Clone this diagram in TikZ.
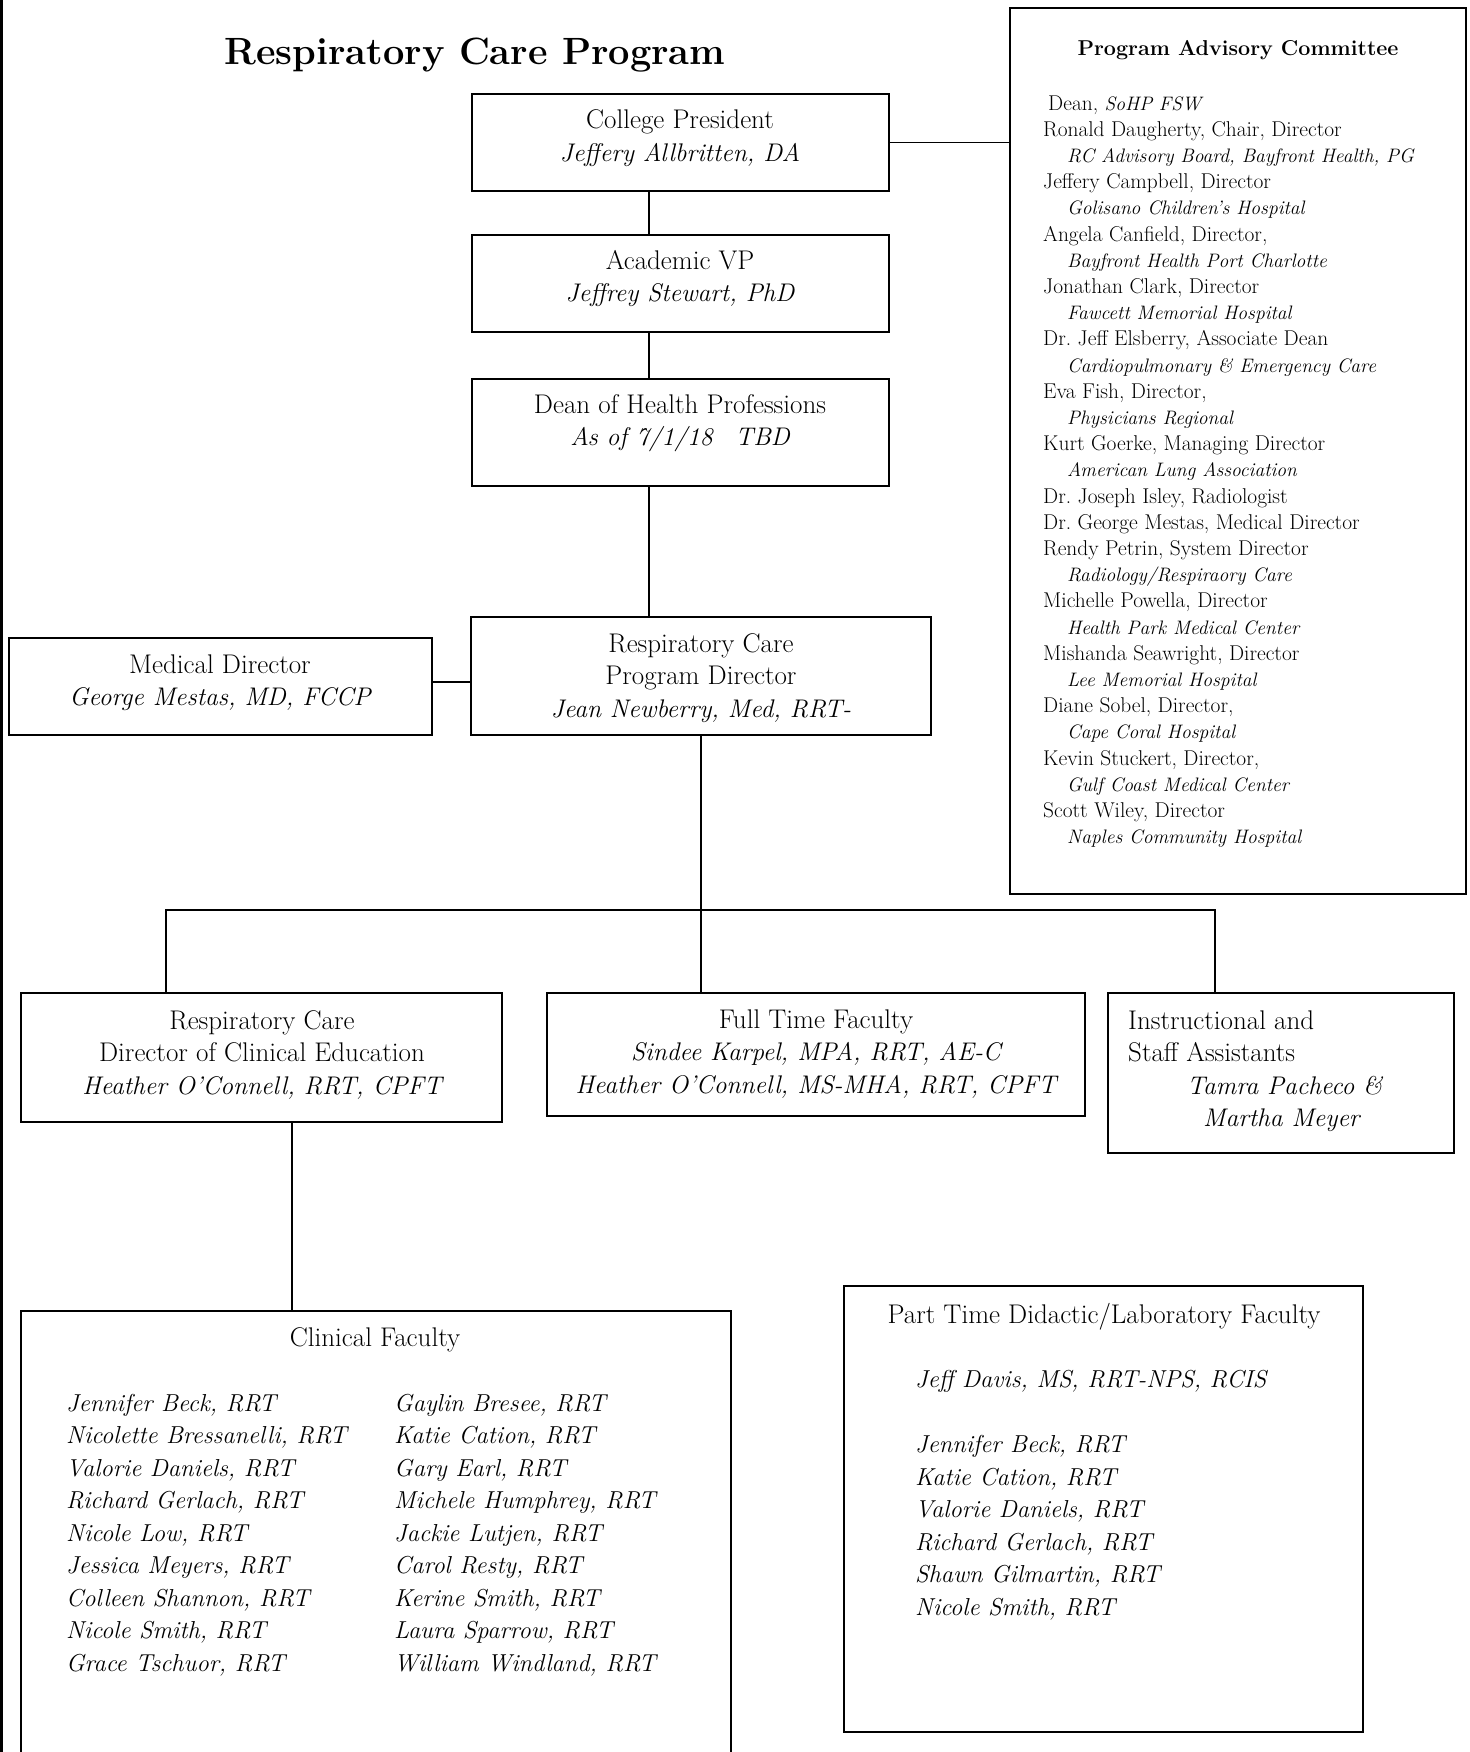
\documentclass[tikz,border=0pt]{standalone}
\usepackage{fontspec}
\frenchspacing
\newcommand\boxit[1]{{\fontsize{25.5}{32.5}\selectfont\itshape #1}}
\newcommand\advit[1]{{\fontsize{19.5}{26.2}\selectfont\itshape #1}}
\begin{document}
\frenchspacing
\begin{tikzpicture}[x=1pt,y=-1pt,
  box/.style={draw, line width=2pt, inner sep=0pt},
  conn/.style={line width=1.6pt},
  txt/.style={font=\frenchspacing\fontsize{27}{32.5}\selectfont, align=center, inner sep=0pt},
  ltxt/.style={font=\frenchspacing\fontsize{27}{32.5}\selectfont, align=left, inner sep=0pt, anchor=west},
  list/.style={font=\frenchspacing\fontsize{24.5}{32.5}\selectfont\itshape, align=left, inner sep=0pt, anchor=west},
]
\useasboundingbox (0,0) rectangle (1469,1752);
\clip (0,0) rectangle (1469,1752);
\fill[white] (0,0) rectangle (1469,1752);
\draw[line width=2.5pt] (1.5,0) -- (1.5,1752);

% title
\node[font=\fontsize{38}{44}\selectfont\bfseries, inner sep=0pt] (title) at (475,55) {Respiratory Care Program};

% boxes
\node[box, minimum width=417, minimum height=97] (cp) at (680.5,142.5) {};
\node[box, minimum width=417, minimum height=97] (vp) at (680.5,283.5) {};
\node[box, minimum width=417, minimum height=107] (dean) at (680.5,432.5) {};
\node[box, minimum width=456, minimum height=886] (adv) at (1238,451) {};
\node[box, minimum width=423, minimum height=97] (md) at (220.5,686.5) {};
\node[box, minimum width=460, minimum height=118] (rcpd) at (701,676) {};
\node[box, minimum width=481, minimum height=129] (dce) at (261.5,1057.5) {};
\node[box, minimum width=538, minimum height=123] (ftf) at (816,1054.5) {};
\node[box, minimum width=346, minimum height=160] (isa) at (1281,1073) {};
\node[box, minimum width=710, minimum height=489] (cf) at (376,1555.5) {};
\node[box, minimum width=519, minimum height=446] (pt) at (1103.5,1509) {};

% box texts
\node[txt] (cpt) at (680,138) {College President\\ \boxit{Jeffery Allbritten, DA}};
\node[txt] (vpt) at (680,278.5) {Academic VP\\ \boxit{Jeffrey Stewart, PhD}};
\node[txt] (deant) at (680,423) {Dean of Health Professions\\ \boxit{As of 7/1/18\hspace{0.9em}TBD}};
\node[txt] (mdt) at (220,682.5) {Medical Director\\ \boxit{George Mestas, MD, FCCP}};
\node[txt] (rcpdt) at (701,678) {Respiratory Care\\ Program Director\\ \boxit{Jean Newberry, Med, RRT-}};
\node[txt] (dcet) at (262,1055) {Respiratory Care\\ Director of Clinical Education\\ \boxit{Heather O'Connell, RRT, CPFT}};
\node[txt] (ftft) at (816,1054) {Full Time Faculty\\ \boxit{Sindee Karpel, MPA, RRT, AE-C}\hspace*{32pt}\\ \boxit{Heather O'Connell, MS-MHA, RRT, CPFT}};
\node[ltxt] (isat) at (1128,1071) {Instructional and\\ Staff Assistants\\ \hspace*{59pt}\boxit{Tamra Pacheco \&}\\ \hspace*{75pt}\boxit{Martha Meyer}};

% advisory committee
\node[font=\fontsize{21.5}{26}\selectfont\bfseries, inner sep=0pt] (advt) at (1238,50) {Program Advisory Committee};
\node[anchor=west, align=left, inner sep=0pt, font=\frenchspacing\fontsize{21.4}{26.2}\selectfont] (advlist) at (1043,471.5) {%
\hspace*{5pt}Dean, \advit{SoHP FSW}\\
Ronald Daugherty, Chair, Director\\
\hspace*{24pt}\advit{RC Advisory Board, Bayfront Health, PG}\\
Jeffery Campbell, Director\\
\hspace*{24pt}\advit{Golisano Children's Hospital}\\
Angela Canfield, Director,\\
\hspace*{24pt}\advit{Bayfront Health Port Charlotte}\\
Jonathan Clark, Director\\
\hspace*{24pt}\advit{Fawcett Memorial Hospital}\\
Dr. Jeff Elsberry, Associate Dean\\
\hspace*{24pt}\advit{Cardiopulmonary \& Emergency Care}\\
Eva Fish, Director,\\
\hspace*{24pt}\advit{Physicians Regional}\\
Kurt Goerke, Managing Director\\
\hspace*{24pt}\advit{American Lung Association}\\
Dr. Joseph Isley, Radiologist\\
Dr. George Mestas, Medical Director\\
Rendy Petrin, System Director\\
\hspace*{24pt}\advit{Radiology/Respiraory Care}\\
Michelle Powella, Director\\
\hspace*{24pt}\advit{Health Park Medical Center}\\
Mishanda Seawright, Director\\
\hspace*{24pt}\advit{Lee Memorial Hospital}\\
Diane Sobel, Director,\\
\hspace*{24pt}\advit{Cape Coral Hospital}\\
Kevin Stuckert, Director,\\
\hspace*{24pt}\advit{Gulf Coast Medical Center}\\
Scott Wiley, Director\\
\hspace*{24pt}\advit{Naples Community Hospital}};

% clinical faculty
\node[txt] (cft) at (375,1340) {Clinical Faculty};
\node[list] (cf1) at (66,1535) {Jennifer Beck, RRT\\ Nicolette Bressanelli, RRT\\ Valorie Daniels, RRT\\ Richard Gerlach, RRT\\ Nicole Low, RRT\\ Jessica Meyers, RRT\\ Colleen Shannon, RRT\\ Nicole Smith, RRT\\ Grace Tschuor, RRT};
\node[list] (cf2) at (394,1535) {Gaylin Bresee, RRT\\ Katie Cation, RRT\\ Gary Earl, RRT\\ Michele Humphrey, RRT\\ Jackie Lutjen, RRT\\ Carol Resty, RRT\\ Kerine Smith, RRT\\ Laura Sparrow, RRT\\ William Windland, RRT};

% part time
\node[txt] (ptt) at (1104,1317) {Part Time Didactic/Laboratory Faculty};
\node[list] (ptl) at (915,1495) {Jeff Davis, MS, RRT-NPS, RCIS\\[32.6pt] Jennifer Beck, RRT\\ Katie Cation, RRT\\ Valorie Daniels, RRT\\ Richard Gerlach, RRT\\ Shawn Gilmartin, RRT\\ Nicole Smith, RRT};

% connectors
\coordinate (spine) at (649,0);
\coordinate (mdy) at (0,682);
\coordinate (hl) at (166,910);
\coordinate (hr) at (1215,910);
\coordinate (cfx) at (292,0);
\draw[conn] (cp.south -| spine) -- (vp.north -| spine);
\draw[conn] (vp.south -| spine) -- (dean.north -| spine);
\draw[conn] (dean.south -| spine) -- (rcpd.north -| spine);
\draw[conn] (cp.east) -- (adv.west |- cp.east);
\draw[conn] (md.east |- mdy) -- (rcpd.west |- mdy);
\draw[conn] (rcpd.south) -- (rcpd.south |- ftf.north);
\draw[conn] (dce.north -| hl) -- (hl) -- (hr) -- (isa.north -| hr);
\draw[conn] (dce.south -| cfx) -- (cf.north -| cfx);
\end{tikzpicture}
\end{document}
